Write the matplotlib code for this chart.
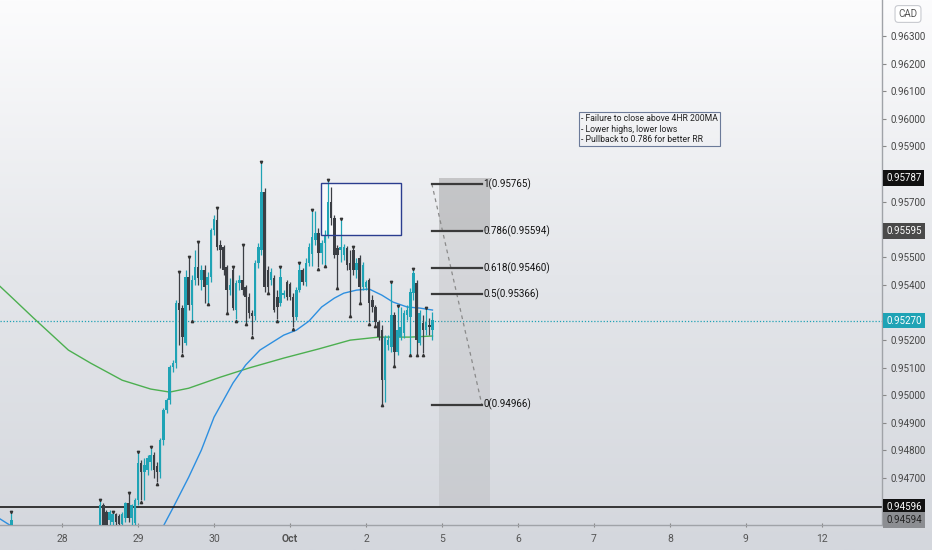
"""
CAD 小时图：K 线 + 均线 + 斐波那契回撤 + 空单盈亏比框
"""

import matplotlib.pyplot as plt
import numpy as np
from matplotlib.colors import LinearSegmentedColormap
from matplotlib.patches import Rectangle

plt.rcParams["font.family"] = ["Roboto", "DejaVu Sans"]

# 横轴以小时为单位, 0 对应 "28" 这一天的开始
DAY_TICKS = [0, 24, 48, 72, 96, 120, 144, 168, 192, 216, 240]
DAY_LABELS = ["28", "29", "30", "Oct", "2", "5", "6", "7", "8", "9", "12"]

hours = [-16] + list(range(12, 118))

opens = [
    0.94526,
    0.94511, 0.94602, 0.94577, 0.94548, 0.94540, 0.94569, 0.94562, 0.94533, 0.94555, 0.94609,
    0.94555, 0.94537, 0.94620, 0.94754, 0.94721, 0.94729, 0.94758, 0.94783, 0.94743, 0.94721,
    0.94837, 0.94946, 0.94982, 0.95101, 0.95116, 0.95333, 0.95315, 0.95188, 0.95427, 0.95326,
    0.95416, 0.95463, 0.95416, 0.95453, 0.95398, 0.95427, 0.95597, 0.95634, 0.95543, 0.95536,
    0.95463, 0.95380, 0.95453, 0.95308, 0.95406, 0.95416, 0.95391, 0.95355, 0.95297, 0.95286,
    0.95478, 0.95525, 0.95735, 0.95453, 0.95416, 0.95424, 0.95355, 0.95333, 0.95362, 0.95409,
    0.95402, 0.95355, 0.95282, 0.95380, 0.95453, 0.95409, 0.95478, 0.95511, 0.95561, 0.95587,
    0.95514, 0.95550, 0.95579, 0.95699, 0.95641, 0.95532, 0.95525, 0.95507, 0.95532, 0.95478,
    0.95525, 0.95453, 0.95496, 0.95391, 0.95391, 0.95416, 0.95344, 0.95319, 0.95264, 0.95235,
    0.95054, 0.95181, 0.95174, 0.95290, 0.95156, 0.95210, 0.95225, 0.95290, 0.95282, 0.95369,
    0.95406, 0.95188, 0.95261, 0.95235, 0.95254, 0.95235,
]
highs = [
    0.94573,
    0.94616, 0.94609, 0.94584, 0.94584, 0.94573, 0.94573, 0.94569, 0.94577, 0.94613, 0.94642,
    0.94606, 0.94627, 0.94790, 0.94765, 0.94772, 0.94783, 0.94808, 0.94794, 0.94758, 0.94844,
    0.94953, 0.94989, 0.95109, 0.95127, 0.95344, 0.95442, 0.95326, 0.95453, 0.95496, 0.95434,
    0.95525, 0.95550, 0.95471, 0.95471, 0.95445, 0.95605, 0.95652, 0.95673, 0.95561, 0.95543,
    0.95471, 0.95424, 0.95460, 0.95416, 0.95434, 0.95540, 0.95398, 0.95369, 0.95308, 0.95489,
    0.95550, 0.95840, 0.95749, 0.95467, 0.95460, 0.95434, 0.95380, 0.95460, 0.95380, 0.95416,
    0.95409, 0.95369, 0.95391, 0.95474, 0.95460, 0.95496, 0.95550, 0.95666, 0.95666, 0.95605,
    0.95561, 0.95597, 0.95775, 0.95753, 0.95652, 0.95543, 0.95634, 0.95547, 0.95540, 0.95525,
    0.95532, 0.95496, 0.95507, 0.95482, 0.95416, 0.95424, 0.95362, 0.95326, 0.95272, 0.95254,
    0.95217, 0.95217, 0.95406, 0.95301, 0.95319, 0.95319, 0.95308, 0.95326, 0.95387, 0.95453,
    0.95416, 0.95308, 0.95290, 0.95311, 0.95279, 0.95301,
]
lows = [
    0.94519,
    0.94475, 0.94493, 0.94511, 0.94519, 0.94519, 0.94522, 0.94519, 0.94519, 0.94540, 0.94540,
    0.94511, 0.94526, 0.94602, 0.94620, 0.94620, 0.94711, 0.94729, 0.94700, 0.94685, 0.94700,
    0.94819, 0.94935, 0.94968, 0.95083, 0.95098, 0.95181, 0.95152, 0.95181, 0.95308, 0.95272,
    0.95398, 0.95398, 0.95380, 0.95333, 0.95333, 0.95409, 0.95579, 0.95525, 0.95460, 0.95434,
    0.95301, 0.95362, 0.95308, 0.95275, 0.95380, 0.95362, 0.95261, 0.95279, 0.95217, 0.95272,
    0.95460, 0.95507, 0.95373, 0.95373, 0.95398, 0.95301, 0.95275, 0.95322, 0.95351, 0.95344,
    0.95344, 0.95246, 0.95272, 0.95373, 0.95398, 0.95395, 0.95467, 0.95467, 0.95543, 0.95463,
    0.95474, 0.95471, 0.95568, 0.95616, 0.95496, 0.95391, 0.95482, 0.95489, 0.95453, 0.95290,
    0.95434, 0.95424, 0.95337, 0.95380, 0.95380, 0.95264, 0.95301, 0.95254, 0.95199, 0.94968,
    0.94975, 0.95163, 0.95156, 0.95109, 0.95145, 0.95199, 0.95206, 0.95272, 0.95149, 0.95344,
    0.95149, 0.95181, 0.95152, 0.95217, 0.95217, 0.95199,
]
closes = [
    0.94548,
    0.94602, 0.94530, 0.94530, 0.94577, 0.94569, 0.94540, 0.94533, 0.94569, 0.94609, 0.94555,
    0.94602, 0.94620, 0.94754, 0.94721, 0.94747, 0.94772, 0.94783, 0.94729, 0.94721, 0.94837,
    0.94946, 0.94982, 0.95101, 0.95116, 0.95333, 0.95308, 0.95210, 0.95427, 0.95326, 0.95416,
    0.95463, 0.95424, 0.95453, 0.95391, 0.95427, 0.95597, 0.95637, 0.95536, 0.95525, 0.95453,
    0.95380, 0.95398, 0.95315, 0.95406, 0.95416, 0.95380, 0.95355, 0.95297, 0.95286, 0.95478,
    0.95536, 0.95735, 0.95391, 0.95391, 0.95445, 0.95308, 0.95319, 0.95427, 0.95369, 0.95355,
    0.95355, 0.95282, 0.95380, 0.95453, 0.95409, 0.95478, 0.95536, 0.95572, 0.95587, 0.95514,
    0.95550, 0.95579, 0.95699, 0.95641, 0.95507, 0.95507, 0.95536, 0.95536, 0.95471, 0.95453,
    0.95453, 0.95478, 0.95391, 0.95471, 0.95409, 0.95333, 0.95319, 0.95264, 0.95210, 0.95054,
    0.95210, 0.95199, 0.95290, 0.95156, 0.95235, 0.95246, 0.95297, 0.95308, 0.95373, 0.95442,
    0.95199, 0.95297, 0.95235, 0.95264, 0.95246, 0.95272,
]

# 分形标记所在的小时
fractal_high_hours = [-16, 12, 16, 21, 24, 28, 37, 40, 43, 49, 54, 57, 63, 69, 75, 79, 84, 88, 92, 104, 106, 111, 115]
fractal_low_hours = [25, 30, 38, 41, 46, 52, 55, 58, 60, 65, 68, 73, 81, 83, 87, 91, 94, 97, 99, 101, 105, 110, 112, 114]

# 200 均线 (绿) 和 50 均线 (蓝)
ma200_hours = [-20, -16, -9, 2, 9, 19, 28, 34, 40, 50, 59, 70, 81, 91, 100, 110, 117]
ma200_values = [0.95398, 0.95355, 0.95279, 0.95163, 0.95116, 0.95054, 0.95022, 0.95011, 0.95025,
                0.95065, 0.95098, 0.95134, 0.95167, 0.95199, 0.95210, 0.95210, 0.95214]
ma50_hours = [-20, -16, -7, 12, 28, 32, 35, 40, 44, 48, 54, 58, 62.5, 70, 74, 78, 82, 86, 89, 93,
              97, 101, 104.5, 109, 113, 117]
ma50_values = [0.94555, 0.94526, 0.94421, 0.94330, 0.94403, 0.94526, 0.94591, 0.94703, 0.94801,
               0.94920, 0.95044, 0.95109, 0.95163, 0.95217, 0.95235, 0.95268, 0.95319, 0.95351,
               0.95369, 0.95380, 0.95384, 0.95362, 0.95337, 0.95319, 0.95315, 0.95308]

# 斐波那契回撤
fib_levels = ["1", "0.786", "0.618", "0.5", "0"]
fib_prices = [0.95765, 0.95594, 0.95460, 0.95366, 0.94966]
fib_hours = (116.8, 132.6)

# 空单: 止损 / 入场 / 目标
stop_price, entry_price, target_price = 0.95787, 0.95595, 0.94596
position_hours = (119, 135.2)

# 阻力框
zone_hours = (81.8, 107.1)
zone_prices = (0.95579, 0.95768)

last_price = 0.95270
note_lines = [
    "- Failure to close above 4HR 200MA",
    "- Lower highs, lower lows",
    "- Pullback to 0.786 for better RR",
]
price_ticks = [0.947, 0.948, 0.949, 0.950, 0.951, 0.952, 0.954, 0.955,
               0.957, 0.959, 0.960, 0.961, 0.962, 0.963]

UP = "#1fa3b5"
DOWN = "#3b3e44"

fig = plt.figure(figsize=(9.32, 5.5), dpi=100)

# 整张图的竖向渐变背景
bg = fig.add_axes([0, 0, 1, 1], zorder=-10)
cmap = LinearSegmentedColormap.from_list("bg", ["#d4d7dd", "#e4e6ea", "#fcfcfd"])
bg.imshow(np.linspace(0, 1, 256).reshape(-1, 1), aspect="auto", cmap=cmap,
          origin="lower", extent=[0, 1, 0, 1])
bg.axis("off")

ax = fig.add_axes([0, 25 / 550, 882 / 932, 525 / 550])
ax.patch.set_alpha(0)
ax.set_xlim(-19.6, 259)
ax.set_ylim(0.94530, 0.96430)

# K 线
o = np.array(opens)
h = np.array(highs)
l = np.array(lows)
c = np.array(closes)
x = np.array(hours)
colors = np.where(c >= o, UP, DOWN)
ax.vlines(x, l, h, colors=colors, lw=0.9, zorder=3)
body = np.maximum(np.abs(c - o), 0.00002)
ax.bar(x, body, bottom=np.minimum(o, c), width=0.82, color=colors, lw=0, zorder=4)

hi_idx = [hours.index(t) for t in fractal_high_hours]
lo_idx = [hours.index(t) for t in fractal_low_hours]
ax.plot(x[hi_idx], h[hi_idx] + 0.00005, "v", ms=1.7, color="#333", zorder=5)
ax.plot(x[lo_idx], l[lo_idx] - 0.00005, "^", ms=1.7, color="#333", zorder=5)

# 均线
ax.plot(ma200_hours, ma200_values, color="#4caf50", lw=1, zorder=2)
ax.plot(ma50_hours, ma50_values, color="#2d8fe0", lw=1, zorder=2)

# 最新价虚线和目标水平线
ax.axhline(last_price, color=UP, lw=0.9, ls=(0, (1, 1.5)), zorder=1)
ax.axhline(target_price, color="#1a1a1a", lw=1.2, zorder=2)

# 阻力框 (底色在 K 线下面, 边框在上面)
zone_w = zone_hours[1] - zone_hours[0]
zone_h = zone_prices[1] - zone_prices[0]
ax.add_patch(Rectangle((zone_hours[0], zone_prices[0]), zone_w, zone_h,
                       fc="#fafbfd", alpha=0.85, lw=0, zorder=1.5))
ax.add_patch(Rectangle((zone_hours[0], zone_prices[0]), zone_w, zone_h,
                       fc="none", ec="#2b3d8f", lw=1, zorder=6))

# 盈亏比框
w = position_hours[1] - position_hours[0]
ax.add_patch(Rectangle((position_hours[0], entry_price), w, stop_price - entry_price,
                       fc="#808080", alpha=0.36, lw=0, zorder=1))
ax.add_patch(Rectangle((position_hours[0], target_price), w, entry_price - target_price,
                       fc="#808080", alpha=0.15, lw=0, zorder=1))

# 斐波那契水平线
for level, price in zip(fib_levels, fib_prices):
    ax.plot(fib_hours, [price, price], color="#3a3a3a", lw=1.6, zorder=6)
    ax.text(fib_hours[1] + 0.5, price, f"{level}({price:.5f})", fontsize=7,
            color="#111", va="center", ha="left", zorder=7)
ax.plot(fib_hours, [fib_prices[0], fib_prices[-1]], color="#8a8a8a", lw=0.9,
        ls=(0, (3, 3)), zorder=5)

# 备注文字框
ax.text(164, 0.96016, "\n".join(note_lines), fontsize=6.2, color="#222", va="top", ha="left",
        linespacing=1.2, zorder=7,
        bbox=dict(boxstyle="square,pad=0.25", fc="none", ec="#6b7a99", lw=0.8))

# 坐标轴
for side in ["top", "left"]:
    ax.spines[side].set_visible(False)
for side in ["bottom", "right"]:
    ax.spines[side].set_color("#a0a3a8")
    ax.spines[side].set_linewidth(1)

ax.set_xticks(DAY_TICKS)
ax.set_xticklabels(DAY_LABELS)
ax.get_xticklabels()[3].set_fontweight("bold")
ax.tick_params(axis="x", direction="inout", length=3, color="#888", labelsize=7.5,
               labelcolor="#555", pad=5)

ax.yaxis.tick_right()
ax.set_yticks(price_ticks)
ax.set_yticklabels([f"{p:.5f}" for p in price_ticks])
ax.tick_params(axis="y", direction="out", length=3, color="#888", labelsize=7,
               labelcolor="#444", pad=3)


def badge(price, text, fc, tc, dy=0):
    """右侧价格坐标轴上的价格标签."""
    ax.annotate(text, xy=(1, price), xycoords=("axes fraction", "data"),
                xytext=(3, dy), textcoords="offset points", fontsize=7, color=tc,
                va="center", ha="left", zorder=10, annotation_clip=False,
                bbox=dict(boxstyle="square,pad=0.3", fc=fc, ec="none"))


badge(stop_price, f"{stop_price:.5f}", "#111111", "white")
badge(entry_price, f"{entry_price:.5f}", "#4a4a4a", "white")
badge(last_price, f"{last_price:.5f}", UP, "white")
badge(target_price, f"{target_price:.5f}", "#111111", "white")
badge(0.94594, "0.94594", "#8c8e92", "#222", dy=-9)

fig.text(908 / 932, 1 - 14 / 550, "CAD", fontsize=7, color="#555", ha="center", va="center",
         bbox=dict(boxstyle="round,pad=0.35", fc="white", ec="#c8cad0", lw=0.8))

fig.savefig("out.png", dpi=100)
